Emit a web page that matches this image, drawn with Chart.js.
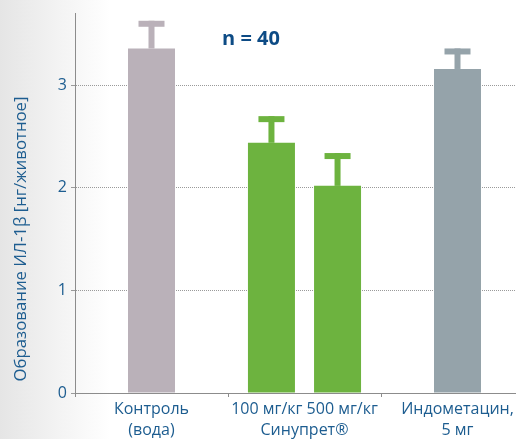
<!DOCTYPE html>
<html><head><meta charset="utf-8">
<script src="https://cdn.jsdelivr.net/npm/chart.js@4.4.1/dist/chart.umd.min.js"></script>
<style>
html,body{margin:0;padding:0;overflow:hidden;width:516px;height:439px;}
body{background:linear-gradient(to right,#e5e5e5 0px,#f1f1f1 50px,#ffffff 110px);}
#wrap{position:relative;width:534px;height:439px;}
</style></head><body>
<div id="wrap"><canvas id="c"></canvas></div>
<script>
// ---- data ----
const categories = [['Контроль', '(вода)'], ['100 мг/кг 500 мг/кг', 'Синупрет®'], ['Индометацин,', '5 мг']];
const firstBarValues = [3.36, 2.44, 3.16];
const firstBarErrors = [0.27, 0.26, 0.20];
const secondBarValues = [null, 2.02, null];
const secondBarErrors = [null, 0.32, null];
const yTicks = [0, 1, 2, 3];
const yMax = 3.7;
const yTitle = 'Образование ИЛ-1β [нг/животное]';
const sampleNote = 'n = 40';

// ---- styles ----
const firstBarColors = ['#bab1b9', '#6db33f', '#95a3aa'];
const secondBarColor = '#6db33f';
const textBlue = '#1d5d90';
const axisGray = '#8c8c8c';

const errorBars = {
  id: 'errorBars',
  afterDatasetsDraw(chart) {
    const ctx = chart.ctx, y = chart.scales.y;
    chart.data.datasets.forEach((ds, i) => {
      const meta = chart.getDatasetMeta(i);
      meta.data.forEach((bar, j) => {
        const v = ds.data[j], e = ds.errors[j];
        if (v == null || e == null) return;
        const yTop = y.getPixelForValue(v + e), yBar = y.getPixelForValue(v);
        const col = Array.isArray(ds.backgroundColor) ? ds.backgroundColor[j] : ds.backgroundColor;
        ctx.save();
        ctx.fillStyle = col;
        ctx.fillRect(bar.x - 3, yTop, 6, yBar - yTop);
        ctx.fillRect(bar.x - 13, yTop, 26, 6);
        ctx.restore();
      });
    });
  }
};

const texts = {
  id: 'texts',
  afterDraw(chart) {
    const {ctx, chartArea: a} = chart;
    ctx.save();
    ctx.fillStyle = '#0d4b85';
    ctx.font = 'bold 20px "Open Sans"';
    ctx.textAlign = 'center';
    ctx.textBaseline = 'middle';
    ctx.fillText(sampleNote, a.left + 176, a.top + 26);
    ctx.translate(a.left - 54, a.bottom - 154);
    ctx.rotate(-Math.PI / 2);
    ctx.fillStyle = textBlue;
    ctx.font = '16.8px "Open Sans"';
    ctx.fillText(yTitle, 0, 0);
    ctx.restore();
  }
};

new Chart(document.getElementById('c'), {
  type: 'bar',
  data: {
    labels: categories,
    datasets: [
      {data: firstBarValues, errors: firstBarErrors, backgroundColor: firstBarColors},
      {data: secondBarValues, errors: secondBarErrors, backgroundColor: secondBarColor}
    ]
  },
  options: {
    responsive: true, maintainAspectRatio: false, animation: false,
    layout: {padding: {top: 12, left: 0, right: 0, bottom: 0}},
    plugins: {legend: {display: false}, tooltip: {enabled: false}},
    datasets: {bar: {skipNull: true, categoryPercentage: 0.864, barPercentage: 0.75, maxBarThickness: 47}},
    scales: {
      x: {
        type: 'category', offset: true,
        grid: {display: true, drawOnChartArea: false, drawTicks: true, tickLength: 4, offset: true, color: axisGray},
        border: {display: true, color: axisGray, width: 1, z: 1},
        ticks: {color: textBlue, font: {family: 'Open Sans', size: 16, lineHeight: 1.3}, padding: 2, maxRotation: 0, autoSkip: false},
        afterFit(s) { s.height = 46; }
      },
      y: {
        min: 0, max: yMax,
        afterBuildTicks(s) { s.ticks = yTicks.map(v => ({value: v})); },
        grid: {color: '#9a9a9a', lineWidth: 1, tickLength: 4, drawTicks: true},
        border: {display: true, color: axisGray, width: 1, dash: [1, 1], z: 1},
        ticks: {color: textBlue, font: {family: 'Open Sans', size: 16}, padding: 4},
        afterFit(s) { s.width = 75; }
      }
    }
  },
  plugins: [errorBars, texts]
});
</script>
</body></html>
